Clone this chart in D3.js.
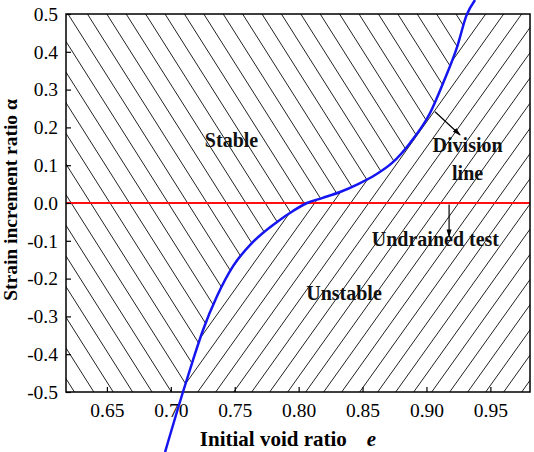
<!DOCTYPE html>
<html><head><meta charset="utf-8">
<script src="https://cdn.jsdelivr.net/npm/d3@7/dist/d3.min.js"></script>
<style>body{margin:0;background:#fff}svg{display:block}</style>
</head><body>
<script>
// ---- data ----
const xTicks = [0.65, 0.70, 0.75, 0.80, 0.85, 0.90, 0.95];
const yTicks = [-0.5, -0.4, -0.3, -0.2, -0.1, 0.0, 0.1, 0.2, 0.3, 0.4, 0.5];
const divisionE = [0.6955, 0.7095, 0.7174, 0.7252, 0.7362, 0.7487, 0.7643, 0.7831, 0.7956, 0.8066, 0.8183, 0.8324, 0.8465, 0.8598, 0.8731, 0.8872, 0.9028, 0.913, 0.924, 0.9314, 0.938];
const divisionA = [-0.659, -0.5, -0.415, -0.336, -0.246, -0.167, -0.103, -0.050, -0.021, 0.0, 0.013, 0.029, 0.050, 0.074, 0.106, 0.159, 0.238, 0.317, 0.413, 0.497, 0.537];
const undrainedAlpha = 0.0;
const regionLabels = ["Stable", "Unstable"];

// ---- layout ----
const W = 534, H = 452;
const m = {left: 66, right: 530, top: 14, bottom: 392};
const x = d3.scaleLinear().domain([0.618, 0.981]).range([m.left, m.right]);
const y = d3.scaleLinear().domain([-0.5, 0.5]).range([m.bottom, m.top]);
const font = "'Liberation Serif','Times New Roman',serif";

const svg = d3.select("body").append("svg").attr("width", W).attr("height", H);
const defs = svg.append("defs");
defs.append("clipPath").attr("id", "plot").append("rect")
  .attr("x", m.left).attr("y", m.top).attr("width", m.right - m.left).attr("height", m.bottom - m.top);

const pts = divisionE.map((e, i) => [x(e), y(divisionA[i])]);
const line = d3.line().curve(d3.curveMonotoneX);
const curvePath = line(pts);
const stablePoly = curvePath + `L${x(0.55)},${y(0.7)}L${x(0.55)},${y(-0.8)}Z`;
const unstablePoly = curvePath + `L${x(1.05)},${y(0.7)}L${x(1.05)},${y(-0.8)}Z`;
defs.append("clipPath").attr("id", "stable").append("path").attr("d", stablePoly);
defs.append("clipPath").attr("id", "unstable").append("path").attr("d", unstablePoly);

const plotG = svg.append("g").attr("clip-path", "url(#plot)");
const Hh = m.bottom - m.top;
const gS = plotG.append("g").attr("clip-path", "url(#stable)");
const slopeS = 1.58, dxS = 19.4, x0S = 68;
for (let k = -30; k < 40; k++) {
  const xt = x0S + k * dxS;
  gS.append("line").attr("x1", xt).attr("y1", m.top).attr("x2", xt + Hh / slopeS).attr("y2", m.bottom)
    .attr("stroke", "#222").attr("stroke-width", 1);
}
const gU = plotG.append("g").attr("clip-path", "url(#unstable)");
const slopeU = 1.4, dxU = 18, x0U = 521.7;
for (let k = -40; k < 30; k++) {
  const xb = x0U + k * dxU;
  gU.append("line").attr("x1", xb).attr("y1", m.bottom).attr("x2", xb + Hh / slopeU).attr("y2", m.top)
    .attr("stroke", "#222").attr("stroke-width", 1);
}

svg.append("line").attr("x1", m.left).attr("x2", m.right).attr("y1", y(undrainedAlpha)).attr("y2", y(undrainedAlpha))
  .attr("stroke", "#ff1010").attr("stroke-width", 2.2);

svg.append("rect").attr("x", m.left).attr("y", m.top).attr("width", m.right - m.left).attr("height", m.bottom - m.top)
  .attr("fill", "none").attr("stroke", "#000").attr("stroke-width", 1.5);

const fx = d => d3.format(".2f")(d).replace("\u2212", "-");
const fy = d => d3.format(".1f")(d).replace("\u2212", "-");
const xAx = svg.append("g").attr("transform", `translate(0,${m.bottom})`)
  .call(d3.axisBottom(x).tickValues(xTicks).tickSizeInner(-5).tickSizeOuter(0).tickPadding(11).tickFormat(fx));
const yAx = svg.append("g").attr("transform", `translate(${m.left},0)`)
  .call(d3.axisLeft(y).tickValues(yTicks).tickSizeInner(-5).tickSizeOuter(0).tickPadding(8).tickFormat(fy));
[xAx, yAx].forEach(a => {
  a.select(".domain").remove();
  a.selectAll("line").attr("stroke", "#000").attr("stroke-width", 1.2);
  a.selectAll("text").attr("font-family", font).attr("font-size", 19.5).attr("fill", "#000");
});

svg.append("path").attr("d", curvePath).attr("fill", "none").attr("stroke", "#1515f0").attr("stroke-width", 2.5);

const xt = svg.append("text").attr("x", 288).attr("y", 446).attr("text-anchor", "middle")
  .attr("font-family", font).attr("font-size", 21).attr("font-weight", "bold");
xt.append("tspan").text("Initial void ratio");
xt.append("tspan").attr("dx", 20).attr("font-style", "italic").text("e");
svg.append("text").attr("transform", "translate(17,200) rotate(-90)").attr("text-anchor", "middle")
  .attr("font-family", font).attr("font-size", 19.5).attr("font-weight", "bold").text("Strain increment ratio α");

const lab = (t, px, py) => svg.append("text").attr("x", px).attr("y", py).attr("text-anchor", "middle")
  .attr("font-family", font).attr("font-size", 20).attr("font-weight", "bold").attr("fill", "#111").text(t);
lab(regionLabels[0], x(0.7475), y(0.148));
lab(regionLabels[1], x(0.8355), y(-0.257));
lab("Division", x(0.9322), y(0.136));
lab("line", x(0.9322), y(0.061));
lab("Undrained test", x(0.907), y(-0.113));

defs.append("marker").attr("id", "ah").attr("viewBox", "0 0 10 10").attr("refX", 9).attr("refY", 5)
  .attr("markerWidth", 7).attr("markerHeight", 7).attr("orient", "auto")
  .append("path").attr("d", "M0,2L10,5L0,8Z").attr("fill", "#000");
svg.append("line").attr("x1", x(0.9067)).attr("y1", y(0.2415)).attr("x2", x(0.9263)).attr("y2", y(0.18))
  .attr("stroke", "#000").attr("stroke-width", 1.2).attr("marker-end", "url(#ah)");
svg.append("line").attr("x1", x(0.9177)).attr("y1", y(-0.004)).attr("x2", x(0.9177)).attr("y2", y(-0.09))
  .attr("stroke", "#000").attr("stroke-width", 1.2).attr("marker-end", "url(#ah)");
</script>
</body></html>
